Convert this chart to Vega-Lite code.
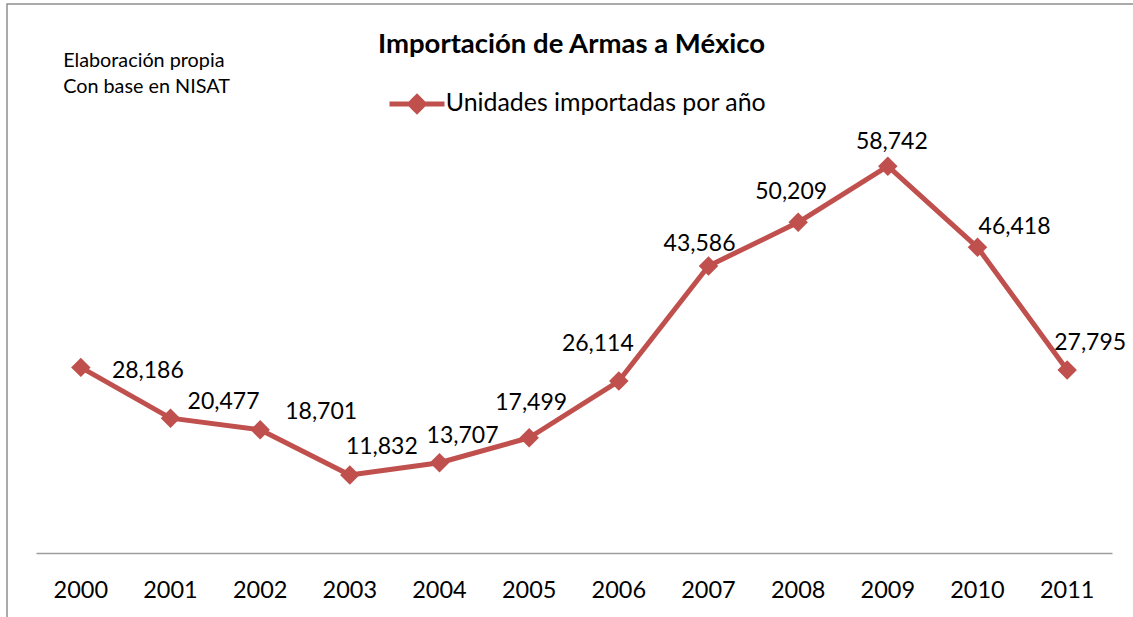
{
  "$schema": "https://vega.github.io/schema/vega-lite/v6.json",
  "width": 1129,
  "height": 616,
  "autosize": {"type": "none"},
  "padding": {"left": 7, "top": 4, "right": -3, "bottom": -3},
  "background": "white",
  "title": {
    "text": "Importación de Armas a México",
    "anchor": "middle",
    "frame": "group",
    "orient": "top",
    "offset": -76.5,
    "baseline": "alphabetic",
    "font": "Lato",
    "fontSize": 27.5,
    "fontWeight": "bold",
    "color": "black"
  },
  "data": {
    "values": [
      {"year": "2000", "unidades": 28186},
      {"year": "2001", "unidades": 20477},
      {"year": "2002", "unidades": 18701},
      {"year": "2003", "unidades": 11832},
      {"year": "2004", "unidades": 13707},
      {"year": "2005", "unidades": 17499},
      {"year": "2006", "unidades": 26114},
      {"year": "2007", "unidades": 43586},
      {"year": "2008", "unidades": 50209},
      {"year": "2009", "unidades": 58742},
      {"year": "2010", "unidades": 46418},
      {"year": "2011", "unidades": 27795}
    ]
  },
  "encoding": {
    "x": {
      "field": "year",
      "type": "ordinal",
      "scale": {"type": "band", "range": [29, 1105], "paddingInner": 0, "paddingOuter": 0},
      "axis": {
        "title": null,
        "orient": "bottom",
        "offset": -67,
        "ticks": false,
        "tickSize": 0,
        "labelPadding": 44,
        "labelBaseline": "alphabetic",
        "labelFont": "Lato",
        "labelFontSize": 23.5,
        "labelColor": "black",
        "labelAngle": 0,
        "domainColor": "#9d9d9d",
        "domainWidth": 1.5,
        "grid": false
      }
    },
    "y": {
      "field": "unidades",
      "type": "quantitative",
      "scale": {"domain": [0, 70000], "range": [549, 88], "nice": false},
      "axis": {
        "title": ["Elaboración propia", "Con base en NISAT"],
        "labels": false,
        "ticks": false,
        "domain": false,
        "grid": false,
        "titleAngle": 0,
        "titleX": 55.7,
        "titleY": 62.7,
        "titleAlign": "left",
        "titleBaseline": "alphabetic",
        "titleFont": "Lato",
        "titleFontSize": 19.8,
        "titleFontWeight": "normal",
        "titleColor": "black",
        "titleLineHeight": 25.6
      }
    }
  },
  "layer": [
    {
      "mark": {"type": "line", "strokeWidth": 5, "strokeJoin": "round"},
      "encoding": {
        "color": {
          "datum": "Unidades importadas por año",
          "scale": {"range": ["#C0504D"]},
          "legend": {
            "title": null,
            "orient": "none",
            "legendX": 380,
            "legendY": 70,
            "symbolType": "M-1,0L1,0M0,-0.26L0.26,0L0,0.26L-0.26,0Z",
            "symbolSize": 3025,
            "symbolStrokeWidth": 5,
            "symbolFillColor": "#C0504D",
            "symbolStrokeColor": "#C0504D",
            "labelFont": "Lato",
            "labelFontSize": 24.9,
            "labelColor": "black",
            "labelOffset": -1.3,
            "labelLimit": 0,
            "padding": 0
          }
        }
      }
    },
    {
      "mark": {"type": "point", "shape": "diamond", "filled": true, "size": 380, "opacity": 1, "color": "#C0504D"}
    },
    {
      "transform": [{"filter": {"field": "year", "oneOf": ["2000"]}}],
      "mark": {"type": "text", "dx": 67, "dy": 3.4, "font": "Lato", "fontSize": 23, "color": "black"},
      "encoding": {"text": {"field": "unidades", "type": "quantitative", "format": ","}}
    },
    {
      "transform": [{"filter": {"field": "year", "oneOf": ["2001"]}}],
      "mark": {"type": "text", "dx": 53, "dy": -16.6, "font": "Lato", "fontSize": 23, "color": "black"},
      "encoding": {"text": {"field": "unidades", "type": "quantitative", "format": ","}}
    },
    {
      "transform": [{"filter": {"field": "year", "oneOf": ["2002"]}}],
      "mark": {"type": "text", "dx": 61, "dy": -17.6, "font": "Lato", "fontSize": 23, "color": "black"},
      "encoding": {"text": {"field": "unidades", "type": "quantitative", "format": ","}}
    },
    {
      "transform": [{"filter": {"field": "year", "oneOf": ["2003"]}}],
      "mark": {"type": "text", "dx": 32, "dy": -27.6, "font": "Lato", "fontSize": 23, "color": "black"},
      "encoding": {"text": {"field": "unidades", "type": "quantitative", "format": ","}}
    },
    {
      "transform": [{"filter": {"field": "year", "oneOf": ["2004", "2011"]}}],
      "mark": {"type": "text", "dx": 23, "dy": -26.6, "font": "Lato", "fontSize": 23, "color": "black"},
      "encoding": {"text": {"field": "unidades", "type": "quantitative", "format": ","}}
    },
    {
      "transform": [{"filter": {"field": "year", "oneOf": ["2005"]}}],
      "mark": {"type": "text", "dx": 2, "dy": -34.6, "font": "Lato", "fontSize": 23, "color": "black"},
      "encoding": {"text": {"field": "unidades", "type": "quantitative", "format": ","}}
    },
    {
      "transform": [{"filter": {"field": "year", "oneOf": ["2006"]}}],
      "mark": {"type": "text", "dx": -21, "dy": -36.6, "font": "Lato", "fontSize": 23, "color": "black"},
      "encoding": {"text": {"field": "unidades", "type": "quantitative", "format": ","}}
    },
    {
      "transform": [{"filter": {"field": "year", "oneOf": ["2007"]}}],
      "mark": {"type": "text", "dx": -9, "dy": -21.6, "font": "Lato", "fontSize": 23, "color": "black"},
      "encoding": {"text": {"field": "unidades", "type": "quantitative", "format": ","}}
    },
    {
      "transform": [{"filter": {"field": "year", "oneOf": ["2008"]}}],
      "mark": {"type": "text", "dx": -7, "dy": -30.6, "font": "Lato", "fontSize": 23, "color": "black"},
      "encoding": {"text": {"field": "unidades", "type": "quantitative", "format": ","}}
    },
    {
      "transform": [{"filter": {"field": "year", "oneOf": ["2009"]}}],
      "mark": {"type": "text", "dx": 4, "dy": -24.6, "font": "Lato", "fontSize": 23, "color": "black"},
      "encoding": {"text": {"field": "unidades", "type": "quantitative", "format": ","}}
    },
    {
      "transform": [{"filter": {"field": "year", "oneOf": ["2010"]}}],
      "mark": {"type": "text", "dx": 37, "dy": -20.6, "font": "Lato", "fontSize": 23, "color": "black"},
      "encoding": {"text": {"field": "unidades", "type": "quantitative", "format": ","}}
    }
  ],
  "config": {
    "view": {"stroke": "#8f8f8f", "strokeWidth": 1.5}
  }
}
